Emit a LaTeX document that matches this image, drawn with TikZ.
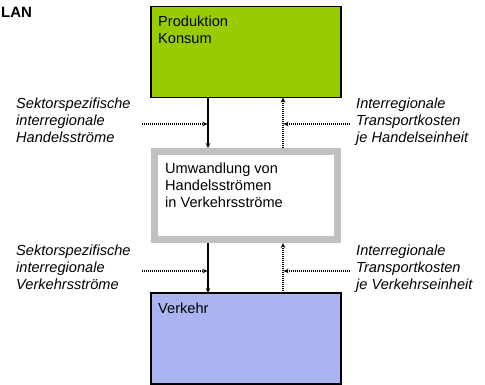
\documentclass[tikz,border=0pt]{standalone}
\usepackage{fontspec}
\setmainfont{Liberation Sans}
\usetikzlibrary{positioning, arrows.meta, calc}

\definecolor{prodgreen}{RGB}{153,204,0}
\definecolor{verkblue}{RGB}{170,180,240}
\definecolor{umwgray}{RGB}{192,192,192}

\begin{document}
\begin{tikzpicture}[x=1pt, y=-1pt, font=\fontsize{14.6}{17}\selectfont,
    box/.style={draw, black, line width=1.2pt, minimum width=190pt, minimum height=91pt, inner sep=0, outer sep=0},
    prodbox/.style={box, fill=prodgreen},
    verkbox/.style={box, fill=verkblue},
    umwbox/.style={draw=umwgray, line width=7pt, fill=white, minimum width=183pt, minimum height=88pt, inner sep=0, outer sep=3.5pt},
    boxtext/.style={anchor=north west, align=left, inner sep=0},
    side/.style={anchor=north west, align=left, inner sep=0, font=\fontsize{14.6}{17}\selectfont\itshape},
    flow/.style={-{Stealth[length=5pt, width=4.5pt]}, line width=1.2pt},
    info/.style={-{Stealth[length=5pt, width=4.5pt]}, line width=1.1pt, dash pattern=on 1pt off 1pt},
    ]
    \useasboundingbox (0,0) rectangle (485,385);

    \coordinate (sx) at (208,0);
    \coordinate (dx) at (283,0);

    \node[anchor=base west, inner sep=0, font=\fontsize{15}{17}\selectfont\bfseries] (title) at (1,18) {LAN};

    \node[prodbox] (prod) at (246,52) {};
    \node[umwbox] (umw) at (246,195.5) {};
    \node[verkbox] (verk) at (246,338.5) {};

    \node[boxtext] (prodtxt) at (158,16) {Produktion\\Konsum};
    \node[boxtext] (umwtxt) at (165,163) {Umwandlung von\\Handelsströmen\\in Verkehrsströme};
    \node[boxtext] (verktxt) at (158,303) {Verkehr};

    \node[side] (handel) at (16,98) {Sektorspezifische\\interregionale\\Handelsströme};
    \node[side] (kosth) at (356,98) {Interregionale\\Transportkosten\\je Handelseinheit};
    \node[side] (verkstr) at (16,245) {Sektorspezifische\\interregionale\\Verkehrsströme};
    \node[side] (kostv) at (356,245) {Interregionale\\Transportkosten\\je Verkehrseinheit};

    \coordinate (h1) at (142,124);
    \coordinate (h2) at (350,124);
    \coordinate (h3) at (142,271);
    \coordinate (h4) at (350,271);

    \draw[flow] (prod.south -| sx) -- (umw.north -| sx);
    \draw[info] (umw.north -| dx) -- (prod.south -| dx);
    \draw[flow] (umw.south -| sx) -- (verk.north -| sx);
    \draw[info] (verk.north -| dx) -- (umw.south -| dx);

    \draw[info] (h1) -- ($(h1 -| sx)+(-0.6,0)$);
    \draw[info] (h2) -- ($(h2 -| dx)+(0.6,0)$);
    \draw[info] (h3) -- ($(h3 -| sx)+(-0.6,0)$);
    \draw[info] (h4) -- ($(h4 -| dx)+(0.6,0)$);

\end{tikzpicture}
\end{document}
